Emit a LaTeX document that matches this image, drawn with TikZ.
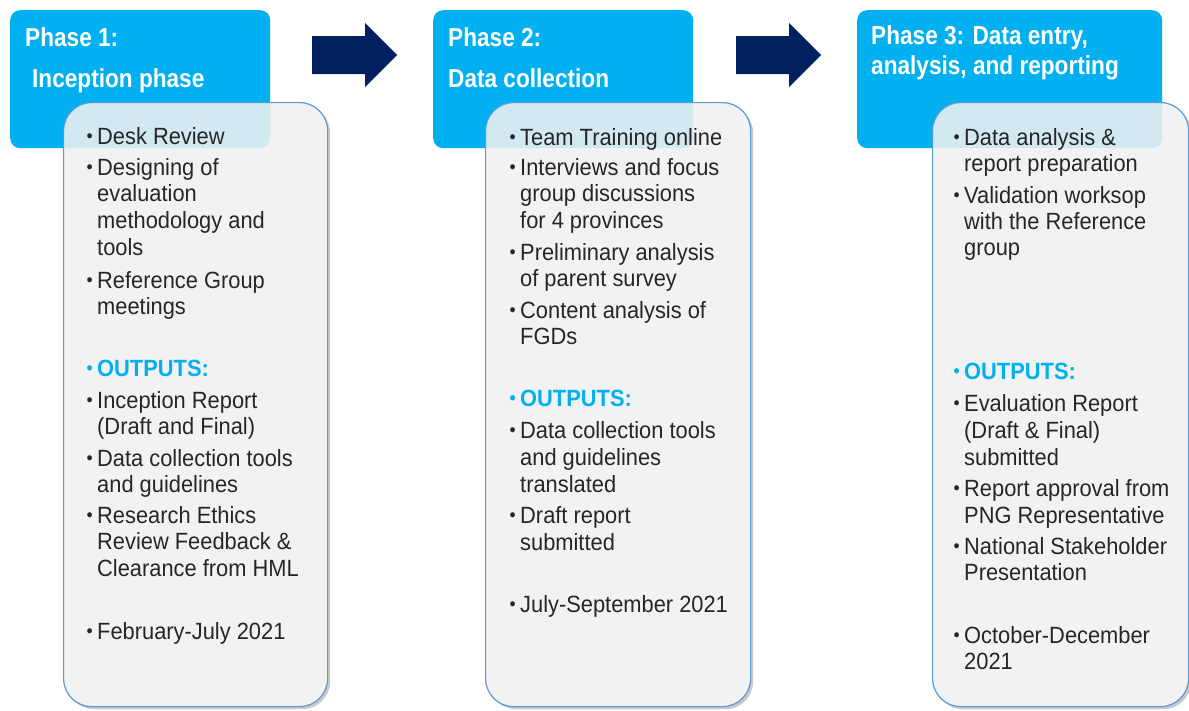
\documentclass[tikz,border=0pt]{standalone}
\usepackage{fontspec}
\setmainfont{Liberation Sans}[FakeStretch=0.93]
\newfontfamily\hfont{Liberation Sans}[FakeStretch=0.87]
\usepackage{graphicx}
\usetikzlibrary{shadows}
\definecolor{cyanh}{HTML}{00B0F0}
\definecolor{navyarrow}{HTML}{002060}
\definecolor{boxline}{HTML}{5B9BD5}
\definecolor{boxfill}{HTML}{F2F2F2}
\definecolor{txt}{HTML}{262626}
\newcommand\bul{\makebox[0pt][r]{\raisebox{1.5pt}{\scalebox{0.8}{•}}\hspace{4.5pt}}}
\newcommand\tl[4]{\node[ln] (#1) at (#2,#3) {#4};}
\newcommand\tlb[4]{\node[ln] (#1) at (#2,#3) {\bul#4};}
\newcommand\tlo[4]{\node[ln,text=cyanh,font=\fontsize{23.5}{28}\selectfont\bfseries] (#1) at (#2,#3) {\bul#4};}
\begin{document}
\begin{tikzpicture}[x=1pt,y=-1pt,
  header/.style={fill=cyanh, draw=none, rounded corners=10pt, anchor=north west, inner sep=0pt},
  panelbase/.style={fill=boxfill, draw=none, rounded corners=28pt,
    anchor=north west, inner sep=0pt,
    drop shadow={shadow xshift=3pt, shadow yshift=-3pt, opacity=0.3, fill=black!70}},
  panel/.style={fill=boxfill, fill opacity=0.87, draw=boxline, line width=1.2pt, rounded corners=28pt,
    anchor=north west, inner sep=0pt},
  ln/.style={anchor=base west, inner sep=0pt, text=txt, font=\fontsize{23.5}{28}\selectfont},
  hd/.style={anchor=base west, inner sep=0pt, text=white, font=\hfont\fontsize{26}{30}\selectfont\bfseries},
  bigarrow/.style={fill=navyarrow, draw=none}]
\useasboundingbox (0,0) rectangle (1189,710);

% panel bases with shadows (opaque, below headers)
\node[panelbase, minimum width=264pt, minimum height=604pt] (q1) at (63,102) {};
\node[panelbase, minimum width=265pt, minimum height=604pt] (q2) at (485,102) {};
\node[panelbase, minimum width=256pt, minimum height=604pt] (q3) at (932,102) {};

% headers
\node[header, minimum width=260pt, minimum height=138pt] (h1) at (10,10) {};
\node[header, minimum width=260pt, minimum height=138pt] (h2) at (433,10) {};
\node[header, minimum width=305pt, minimum height=138pt] (h3) at (857,10) {};

% panels (translucent over headers)
\node[panel, minimum width=264pt, minimum height=604pt] (p1) at (63,102) {};
\node[panel, minimum width=265pt, minimum height=604pt] (p2) at (485,102) {};
\node[panel, minimum width=256pt, minimum height=604pt] (p3) at (932,102) {};

% arrows
\path[bigarrow] (312,36) -- (365,36) -- (365,23) -- (397,55) -- (365,87) -- (365,74) -- (312,74) -- cycle;
\path[bigarrow] (736,36) -- (789,36) -- (789,23) -- (821,55) -- (789,87) -- (789,74) -- (736,74) -- cycle;

% header texts
\node[hd] (h1a) at (25,46) {Phase 1:};
\node[hd] (h1b) at (32,87) {Inception phase};
\node[hd] (h2a) at (448,46) {Phase 2:};
\node[hd] (h2b) at (448,87) {Data collection};
\node[hd] (h3a) at (871,44) {Phase 3: Data entry,};
\node[hd] (h3b) at (871,74) {analysis, and reporting};

% panel 1
\tlb{a1}{97}{144}{Desk Review}
\tlb{a2}{97}{175}{Designing of}
\tl{a3}{97}{201}{evaluation}
\tl{a4}{97}{228}{methodology and}
\tl{a5}{97}{255}{tools}
\tlb{a6}{97}{288}{Reference Group}
\tl{a7}{97}{314}{meetings}
\tlo{a8}{97}{376}{OUTPUTS:}
\tlb{a9}{97}{408}{Inception Report}
\tl{a10}{97}{434}{(Draft and Final)}
\tlb{a11}{97}{466}{Data collection tools}
\tl{a12}{97}{492}{and guidelines}
\tlb{a13}{97}{523}{Research Ethics}
\tl{a14}{97}{549}{Review Feedback \&}
\tl{a15}{97}{576}{Clearance from HML}
\tlb{a16}{97}{639}{February-July 2021}

% panel 2
\tlb{b1}{520}{145}{Team Training online}
\tlb{b2}{520}{175}{Interviews and focus}
\tl{b3}{520}{201}{group discussions}
\tl{b4}{520}{228}{for 4 provinces}
\tlb{b5}{520}{260}{Preliminary analysis}
\tl{b6}{520}{286}{of parent survey}
\tlb{b7}{520}{318}{Content analysis of}
\tl{b8}{520}{344}{FGDs}
\tlo{b9}{520}{406}{OUTPUTS:}
\tlb{b10}{520}{438}{Data collection tools}
\tl{b11}{520}{465}{and guidelines}
\tl{b12}{520}{492}{translated}
\tlb{b13}{520}{523}{Draft report}
\tl{b14}{520}{550}{submitted}
\tlb{b15}{520}{612}{July-September 2021}

% panel 3
\tlb{c1}{964}{145}{Data analysis \&}
\tl{c2}{964}{171}{report preparation}
\tlb{c3}{964}{203}{Validation worksop}
\tl{c4}{964}{229}{with the Reference}
\tl{c5}{964}{255}{group}
\tlo{c6}{964}{379}{OUTPUTS:}
\tlb{c7}{964}{411}{Evaluation Report}
\tl{c8}{964}{438}{(Draft \& Final)}
\tl{c9}{964}{465}{submitted}
\tlb{c10}{964}{496}{Report approval from}
\tl{c11}{964}{523}{PNG Representative}
\tlb{c12}{964}{554}{National Stakeholder}
\tl{c13}{964}{580}{Presentation}
\tlb{c14}{964}{643}{October-December}
\tl{c15}{964}{669}{2021}
\end{tikzpicture}
\end{document}
